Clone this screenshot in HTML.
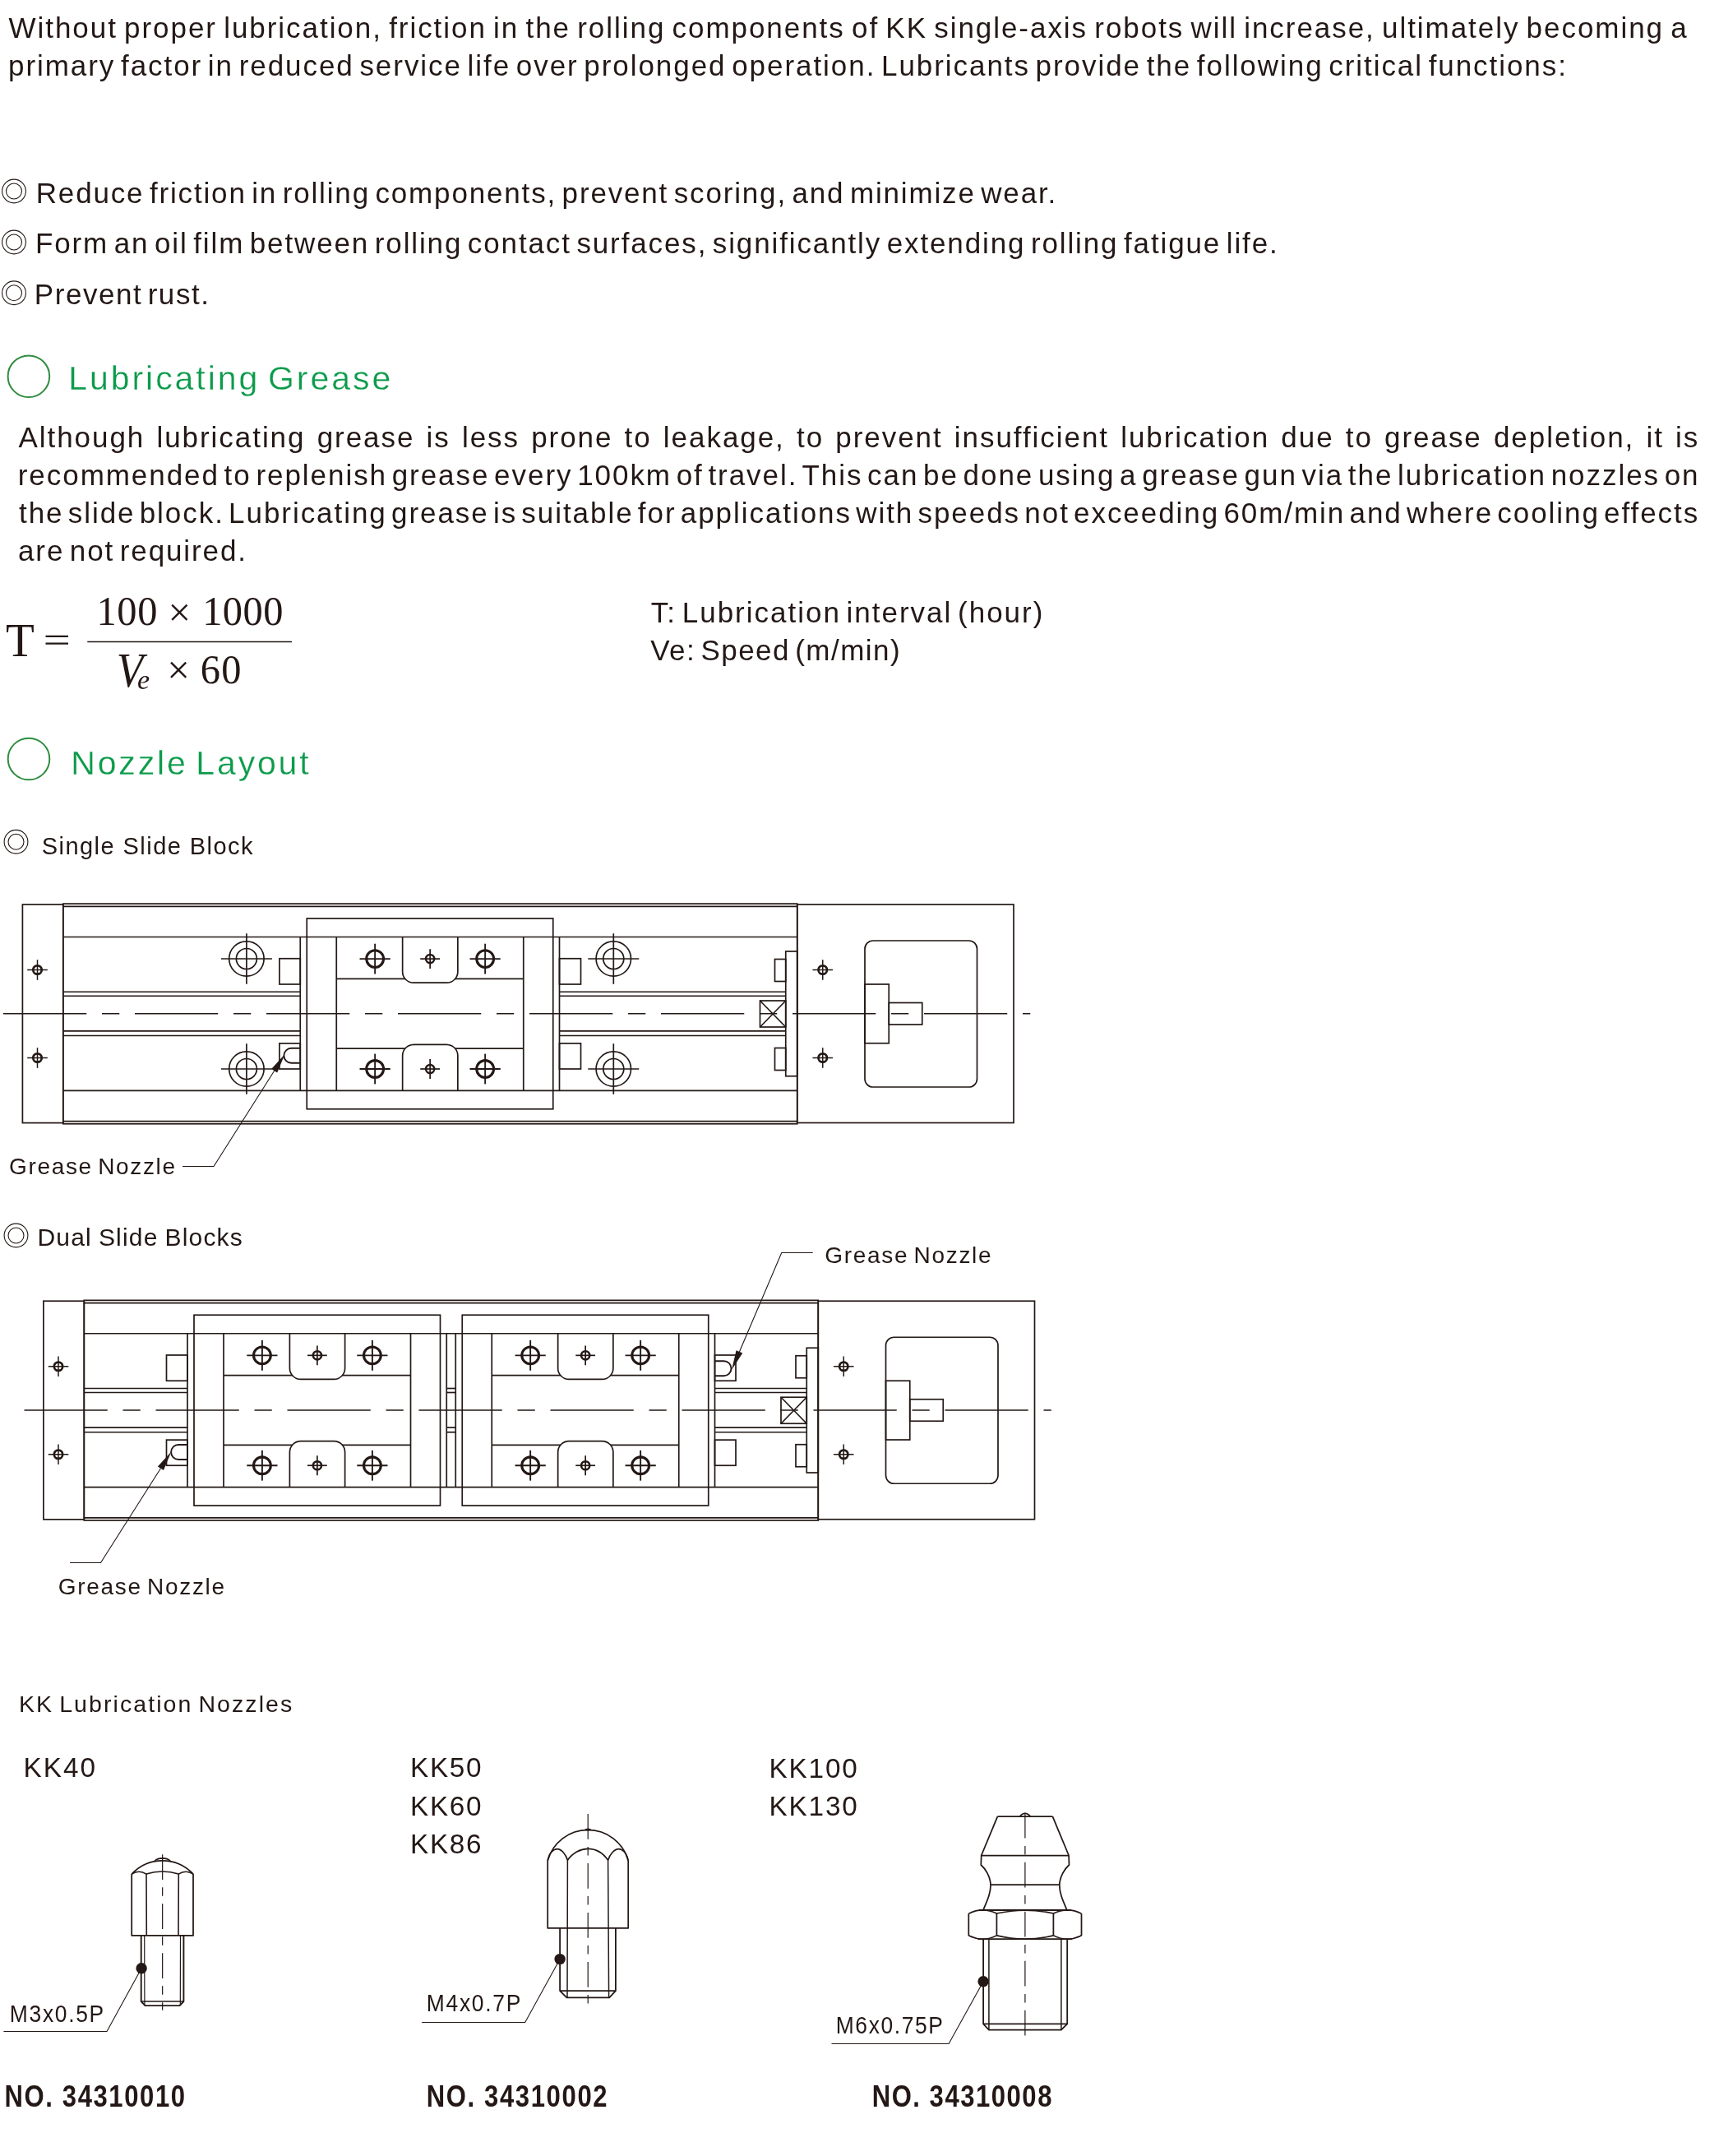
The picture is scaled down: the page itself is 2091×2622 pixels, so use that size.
<!DOCTYPE html>
<html><head><meta charset="utf-8"><title>Lubrication</title>
<style>
html,body{margin:0;padding:0;background:#fff;}
body{width:2091px;height:2622px;overflow:hidden;font-family:"Liberation Sans",sans-serif;}
svg{display:block;position:absolute;left:0;top:0;will-change:transform;}
.l{fill:none;stroke:#231815;stroke-width:1.7;}
.t{fill:none;stroke:#231815;stroke-width:1.1;}
.c{fill:none;stroke:#231815;stroke-width:1.3;}
text{white-space:pre;}
</style></head><body>
<svg width="2091" height="2622" viewBox="0 0 2091 2622">
<circle cx="34.9" cy="457.7" r="25.3" fill="none" stroke="#2f8c3e" stroke-width="2"/>
<circle cx="35" cy="923" r="25.3" fill="none" stroke="#2f8c3e" stroke-width="2"/>
<circle cx="17" cy="232.5" r="14.4" fill="none" stroke="#231815" stroke-width="1.1"/>
<circle cx="17" cy="232.5" r="9.5" fill="none" stroke="#231815" stroke-width="1.1"/>
<circle cx="17" cy="294.5" r="14.4" fill="none" stroke="#231815" stroke-width="1.1"/>
<circle cx="17" cy="294.5" r="9.5" fill="none" stroke="#231815" stroke-width="1.1"/>
<circle cx="17" cy="356.25" r="14.4" fill="none" stroke="#231815" stroke-width="1.1"/>
<circle cx="17" cy="356.25" r="9.5" fill="none" stroke="#231815" stroke-width="1.1"/>
<circle cx="19.5" cy="1023.75" r="14.4" fill="none" stroke="#231815" stroke-width="1.1"/>
<circle cx="19.5" cy="1023.75" r="9.5" fill="none" stroke="#231815" stroke-width="1.1"/>
<circle cx="19.5" cy="1502.5" r="14.4" fill="none" stroke="#231815" stroke-width="1.1"/>
<circle cx="19.5" cy="1502.5" r="9.5" fill="none" stroke="#231815" stroke-width="1.1"/>
<path d="M55.5 773.9 H83 M55.5 782.6 H83" stroke="#231815" stroke-width="2.2" fill="none"/>
<line x1="106.25" y1="780.5" x2="355" y2="780.5" stroke="#231815" stroke-width="1.4"/>
<rect class="l" x="27.4" y="1100" width="49.4" height="265.6"/><rect class="l" x="969.75" y="1100" width="263.25" height="265.5"/><rect class="l" x="76.8" y="1099.1" width="892.95" height="267.65"/><line class="l" x1="76.8" y1="1102.3" x2="969.75" y2="1102.3"/><line class="l" x1="76.8" y1="1363.6" x2="969.75" y2="1363.6"/><circle class="l" cx="45.5" cy="1179.5" r="5.2" style="stroke-width:2.7"/><line class="l" x1="33.2" y1="1179.5" x2="57.8" y2="1179.5" style="stroke-width:1.5"/><line class="l" x1="45.5" y1="1167.2" x2="45.5" y2="1191.8" style="stroke-width:1.5"/><circle class="l" cx="45.5" cy="1286.5" r="5.2" style="stroke-width:2.7"/><line class="l" x1="33.2" y1="1286.5" x2="57.8" y2="1286.5" style="stroke-width:1.5"/><line class="l" x1="45.5" y1="1274.2" x2="45.5" y2="1298.8" style="stroke-width:1.5"/><circle class="l" cx="1000.75" cy="1179.5" r="5.2" style="stroke-width:2.7"/><line class="l" x1="988.45" y1="1179.5" x2="1013.05" y2="1179.5" style="stroke-width:1.5"/><line class="l" x1="1000.75" y1="1167.2" x2="1000.75" y2="1191.8" style="stroke-width:1.5"/><circle class="l" cx="1000.75" cy="1286.5" r="5.2" style="stroke-width:2.7"/><line class="l" x1="988.45" y1="1286.5" x2="1013.05" y2="1286.5" style="stroke-width:1.5"/><line class="l" x1="1000.75" y1="1274.2" x2="1000.75" y2="1298.8" style="stroke-width:1.5"/><line class="l" x1="76.8" y1="1206.25" x2="365.25" y2="1206.25"/><line class="l" x1="76.8" y1="1211.25" x2="365.25" y2="1211.25"/><line class="l" x1="76.8" y1="1253.9" x2="365.25" y2="1253.9"/><line class="l" x1="76.8" y1="1259.5" x2="365.25" y2="1259.5"/><line class="l" x1="680.5" y1="1206.25" x2="955.75" y2="1206.25"/><line class="l" x1="680.5" y1="1211.25" x2="955.75" y2="1211.25"/><line class="l" x1="680.5" y1="1253.9" x2="955.75" y2="1253.9"/><line class="l" x1="680.5" y1="1259.5" x2="955.75" y2="1259.5"/><rect class="l" x="373.25" y="1117" width="299.5" height="231.75"/><line class="l" x1="365.25" y1="1139.5" x2="365.25" y2="1326.3"/><line class="l" x1="409.25" y1="1139.5" x2="409.25" y2="1326.3"/><line class="l" x1="636.75" y1="1139.5" x2="636.75" y2="1326.3"/><line class="l" x1="680.5" y1="1139.5" x2="680.5" y2="1326.3"/><line class="l" x1="409.25" y1="1190.3" x2="636.75" y2="1190.3"/><path class="l" d="M489.65 1139.5 L489.65 1181.7 C489.65 1189.12 495.72 1195.2 503.15 1195.2 L543.35 1195.2 C550.77 1195.2 556.85 1189.12 556.85 1181.7 L556.85 1139.5" style="fill:#fff"/><line class="l" x1="409.25" y1="1275.2" x2="636.75" y2="1275.2"/><path class="l" d="M489.65 1326.3 L489.65 1283.8 C489.65 1276.38 495.72 1270.3 503.15 1270.3 L543.35 1270.3 C550.77 1270.3 556.85 1276.38 556.85 1283.8 L556.85 1326.3" style="fill:#fff"/><circle class="l" cx="456.15" cy="1166.1" r="10.4" style="stroke-width:3.1"/><line class="l" x1="437.55" y1="1166.1" x2="474.75" y2="1166.1" style="stroke-width:1.9"/><line class="l" x1="456.15" y1="1147.7" x2="456.15" y2="1184.5" style="stroke-width:1.9"/><circle class="l" cx="590.15" cy="1166.1" r="10.4" style="stroke-width:3.1"/><line class="l" x1="571.55" y1="1166.1" x2="608.75" y2="1166.1" style="stroke-width:1.9"/><line class="l" x1="590.15" y1="1147.7" x2="590.15" y2="1184.5" style="stroke-width:1.9"/><circle class="l" cx="523.15" cy="1166.1" r="5.1" style="stroke-width:2.5"/><line class="l" x1="511.25" y1="1166.1" x2="535.05" y2="1166.1" style="stroke-width:1.7"/><line class="l" x1="523.15" y1="1154.2" x2="523.15" y2="1178" style="stroke-width:1.7"/><circle class="l" cx="456.15" cy="1300" r="10.4" style="stroke-width:3.1"/><line class="l" x1="437.55" y1="1300" x2="474.75" y2="1300" style="stroke-width:1.9"/><line class="l" x1="456.15" y1="1281.6" x2="456.15" y2="1318.4" style="stroke-width:1.9"/><circle class="l" cx="590.15" cy="1300" r="10.4" style="stroke-width:3.1"/><line class="l" x1="571.55" y1="1300" x2="608.75" y2="1300" style="stroke-width:1.9"/><line class="l" x1="590.15" y1="1281.6" x2="590.15" y2="1318.4" style="stroke-width:1.9"/><circle class="l" cx="523.15" cy="1300" r="5.1" style="stroke-width:2.5"/><line class="l" x1="511.25" y1="1300" x2="535.05" y2="1300" style="stroke-width:1.7"/><line class="l" x1="523.15" y1="1288.1" x2="523.15" y2="1311.9" style="stroke-width:1.7"/><line class="l" x1="76.8" y1="1139.5" x2="969.75" y2="1139.5"/><line class="l" x1="76.8" y1="1326.3" x2="969.75" y2="1326.3"/><rect class="l" x="339.9" y="1165.75" width="25.35" height="31.25"/><rect class="l" x="339.9" y="1268.9" width="25.35" height="31.1"/><rect class="l" x="680.5" y="1165.75" width="26" height="31.25"/><rect class="l" x="680.5" y="1268.9" width="26" height="31.1"/><circle class="l" cx="299.9" cy="1166" r="21.2" style="stroke-width:1.7"/><circle class="l" cx="299.9" cy="1166" r="12.5" style="stroke-width:1.7"/><line class="l" x1="268.9" y1="1166" x2="330.9" y2="1166"/><line class="l" x1="299.9" y1="1135.2" x2="299.9" y2="1196.8"/><circle class="l" cx="299.9" cy="1300" r="21.2" style="stroke-width:1.7"/><circle class="l" cx="299.9" cy="1300" r="12.5" style="stroke-width:1.7"/><line class="l" x1="268.9" y1="1300" x2="330.9" y2="1300"/><line class="l" x1="299.9" y1="1269.2" x2="299.9" y2="1330.8"/><circle class="l" cx="746.3" cy="1166" r="21.2" style="stroke-width:1.7"/><circle class="l" cx="746.3" cy="1166" r="12.5" style="stroke-width:1.7"/><line class="l" x1="715.3" y1="1166" x2="777.3" y2="1166"/><line class="l" x1="746.3" y1="1135.2" x2="746.3" y2="1196.8"/><circle class="l" cx="746.3" cy="1300" r="21.2" style="stroke-width:1.7"/><circle class="l" cx="746.3" cy="1300" r="12.5" style="stroke-width:1.7"/><line class="l" x1="715.3" y1="1300" x2="777.3" y2="1300"/><line class="l" x1="746.3" y1="1269.2" x2="746.3" y2="1330.8"/><rect class="l" x="955.75" y="1157" width="14" height="151.75"/><rect class="l" x="942.5" y="1166.5" width="13.25" height="27"/><rect class="l" x="942.5" y="1274.5" width="13.25" height="27"/><rect class="l" x="924.5" y="1217" width="31.25" height="32"/><line class="l" x1="924.5" y1="1217" x2="955.75" y2="1249"/><line class="l" x1="924.5" y1="1249" x2="955.75" y2="1217"/><rect class="l" x="1052" y="1144" width="136.5" height="178" rx="10"/><rect class="l" x="1052" y="1197" width="29.25" height="71.75"/><rect class="l" x="1081.25" y="1219.5" width="40.5" height="26.5"/><line class="c" x1="4" y1="1232.75" x2="1253.25" y2="1232.75" stroke-dasharray="101.25 18.75 21.25 18.75"/>
<path class="l" d="M365.25 1274.8 L354.4 1274.8 A9 9 0 0 0 354.4 1292.8 L365.25 1292.8" style="stroke-width:1.9"/>
<path d="M346.5 1282 L330.11 1300.02 L337.2 1304.52 Z" fill="#231815"/><polyline class="t" points="333.65,1302.27 260,1418.5 222,1418.5"/>
<rect class="l" x="52.9" y="1582.25" width="49.4" height="265.6"/><rect class="l" x="995.25" y="1582.25" width="263.25" height="265.5"/><rect class="l" x="102.3" y="1581.35" width="892.95" height="267.65"/><line class="l" x1="102.3" y1="1584.55" x2="995.25" y2="1584.55"/><line class="l" x1="102.3" y1="1845.85" x2="995.25" y2="1845.85"/><circle class="l" cx="71" cy="1661.75" r="5.2" style="stroke-width:2.7"/><line class="l" x1="58.7" y1="1661.75" x2="83.3" y2="1661.75" style="stroke-width:1.5"/><line class="l" x1="71" y1="1649.45" x2="71" y2="1674.05" style="stroke-width:1.5"/><circle class="l" cx="71" cy="1768.75" r="5.2" style="stroke-width:2.7"/><line class="l" x1="58.7" y1="1768.75" x2="83.3" y2="1768.75" style="stroke-width:1.5"/><line class="l" x1="71" y1="1756.45" x2="71" y2="1781.05" style="stroke-width:1.5"/><circle class="l" cx="1026.25" cy="1661.75" r="5.2" style="stroke-width:2.7"/><line class="l" x1="1013.95" y1="1661.75" x2="1038.55" y2="1661.75" style="stroke-width:1.5"/><line class="l" x1="1026.25" y1="1649.45" x2="1026.25" y2="1674.05" style="stroke-width:1.5"/><circle class="l" cx="1026.25" cy="1768.75" r="5.2" style="stroke-width:2.7"/><line class="l" x1="1013.95" y1="1768.75" x2="1038.55" y2="1768.75" style="stroke-width:1.5"/><line class="l" x1="1026.25" y1="1756.45" x2="1026.25" y2="1781.05" style="stroke-width:1.5"/><line class="l" x1="102.3" y1="1688.5" x2="228" y2="1688.5"/><line class="l" x1="102.3" y1="1693.5" x2="228" y2="1693.5"/><line class="l" x1="102.3" y1="1736.15" x2="228" y2="1736.15"/><line class="l" x1="102.3" y1="1741.75" x2="228" y2="1741.75"/><line class="l" x1="543.25" y1="1688.5" x2="554.25" y2="1688.5"/><line class="l" x1="543.25" y1="1693.5" x2="554.25" y2="1693.5"/><line class="l" x1="543.25" y1="1736.15" x2="554.25" y2="1736.15"/><line class="l" x1="543.25" y1="1741.75" x2="554.25" y2="1741.75"/><line class="l" x1="869.5" y1="1688.5" x2="981.25" y2="1688.5"/><line class="l" x1="869.5" y1="1693.5" x2="981.25" y2="1693.5"/><line class="l" x1="869.5" y1="1736.15" x2="981.25" y2="1736.15"/><line class="l" x1="869.5" y1="1741.75" x2="981.25" y2="1741.75"/><rect class="l" x="236" y="1599.25" width="299.5" height="231.75"/><line class="l" x1="228" y1="1621.75" x2="228" y2="1808.55"/><line class="l" x1="272" y1="1621.75" x2="272" y2="1808.55"/><line class="l" x1="499.5" y1="1621.75" x2="499.5" y2="1808.55"/><line class="l" x1="543.25" y1="1621.75" x2="543.25" y2="1808.55"/><line class="l" x1="272" y1="1672.55" x2="499.5" y2="1672.55"/><path class="l" d="M352.4 1621.75 L352.4 1663.95 C352.4 1671.38 358.47 1677.45 365.9 1677.45 L406.1 1677.45 C413.53 1677.45 419.6 1671.38 419.6 1663.95 L419.6 1621.75" style="fill:#fff"/><line class="l" x1="272" y1="1757.45" x2="499.5" y2="1757.45"/><path class="l" d="M352.4 1808.55 L352.4 1766.05 C352.4 1758.62 358.47 1752.55 365.9 1752.55 L406.1 1752.55 C413.53 1752.55 419.6 1758.62 419.6 1766.05 L419.6 1808.55" style="fill:#fff"/><circle class="l" cx="318.9" cy="1648.35" r="10.4" style="stroke-width:3.1"/><line class="l" x1="300.3" y1="1648.35" x2="337.5" y2="1648.35" style="stroke-width:1.9"/><line class="l" x1="318.9" y1="1629.95" x2="318.9" y2="1666.75" style="stroke-width:1.9"/><circle class="l" cx="452.9" cy="1648.35" r="10.4" style="stroke-width:3.1"/><line class="l" x1="434.3" y1="1648.35" x2="471.5" y2="1648.35" style="stroke-width:1.9"/><line class="l" x1="452.9" y1="1629.95" x2="452.9" y2="1666.75" style="stroke-width:1.9"/><circle class="l" cx="385.9" cy="1648.35" r="5.1" style="stroke-width:2.5"/><line class="l" x1="374" y1="1648.35" x2="397.8" y2="1648.35" style="stroke-width:1.7"/><line class="l" x1="385.9" y1="1636.45" x2="385.9" y2="1660.25" style="stroke-width:1.7"/><circle class="l" cx="318.9" cy="1782.25" r="10.4" style="stroke-width:3.1"/><line class="l" x1="300.3" y1="1782.25" x2="337.5" y2="1782.25" style="stroke-width:1.9"/><line class="l" x1="318.9" y1="1763.85" x2="318.9" y2="1800.65" style="stroke-width:1.9"/><circle class="l" cx="452.9" cy="1782.25" r="10.4" style="stroke-width:3.1"/><line class="l" x1="434.3" y1="1782.25" x2="471.5" y2="1782.25" style="stroke-width:1.9"/><line class="l" x1="452.9" y1="1763.85" x2="452.9" y2="1800.65" style="stroke-width:1.9"/><circle class="l" cx="385.9" cy="1782.25" r="5.1" style="stroke-width:2.5"/><line class="l" x1="374" y1="1782.25" x2="397.8" y2="1782.25" style="stroke-width:1.7"/><line class="l" x1="385.9" y1="1770.35" x2="385.9" y2="1794.15" style="stroke-width:1.7"/><rect class="l" x="562.25" y="1599.25" width="299.5" height="231.75"/><line class="l" x1="554.25" y1="1621.75" x2="554.25" y2="1808.55"/><line class="l" x1="598.25" y1="1621.75" x2="598.25" y2="1808.55"/><line class="l" x1="825.75" y1="1621.75" x2="825.75" y2="1808.55"/><line class="l" x1="869.5" y1="1621.75" x2="869.5" y2="1808.55"/><line class="l" x1="598.25" y1="1672.55" x2="825.75" y2="1672.55"/><path class="l" d="M678.65 1621.75 L678.65 1663.95 C678.65 1671.38 684.73 1677.45 692.15 1677.45 L732.35 1677.45 C739.77 1677.45 745.85 1671.38 745.85 1663.95 L745.85 1621.75" style="fill:#fff"/><line class="l" x1="598.25" y1="1757.45" x2="825.75" y2="1757.45"/><path class="l" d="M678.65 1808.55 L678.65 1766.05 C678.65 1758.62 684.73 1752.55 692.15 1752.55 L732.35 1752.55 C739.77 1752.55 745.85 1758.62 745.85 1766.05 L745.85 1808.55" style="fill:#fff"/><circle class="l" cx="645.15" cy="1648.35" r="10.4" style="stroke-width:3.1"/><line class="l" x1="626.55" y1="1648.35" x2="663.75" y2="1648.35" style="stroke-width:1.9"/><line class="l" x1="645.15" y1="1629.95" x2="645.15" y2="1666.75" style="stroke-width:1.9"/><circle class="l" cx="779.15" cy="1648.35" r="10.4" style="stroke-width:3.1"/><line class="l" x1="760.55" y1="1648.35" x2="797.75" y2="1648.35" style="stroke-width:1.9"/><line class="l" x1="779.15" y1="1629.95" x2="779.15" y2="1666.75" style="stroke-width:1.9"/><circle class="l" cx="712.15" cy="1648.35" r="5.1" style="stroke-width:2.5"/><line class="l" x1="700.25" y1="1648.35" x2="724.05" y2="1648.35" style="stroke-width:1.7"/><line class="l" x1="712.15" y1="1636.45" x2="712.15" y2="1660.25" style="stroke-width:1.7"/><circle class="l" cx="645.15" cy="1782.25" r="10.4" style="stroke-width:3.1"/><line class="l" x1="626.55" y1="1782.25" x2="663.75" y2="1782.25" style="stroke-width:1.9"/><line class="l" x1="645.15" y1="1763.85" x2="645.15" y2="1800.65" style="stroke-width:1.9"/><circle class="l" cx="779.15" cy="1782.25" r="10.4" style="stroke-width:3.1"/><line class="l" x1="760.55" y1="1782.25" x2="797.75" y2="1782.25" style="stroke-width:1.9"/><line class="l" x1="779.15" y1="1763.85" x2="779.15" y2="1800.65" style="stroke-width:1.9"/><circle class="l" cx="712.15" cy="1782.25" r="5.1" style="stroke-width:2.5"/><line class="l" x1="700.25" y1="1782.25" x2="724.05" y2="1782.25" style="stroke-width:1.7"/><line class="l" x1="712.15" y1="1770.35" x2="712.15" y2="1794.15" style="stroke-width:1.7"/><line class="l" x1="102.3" y1="1621.75" x2="995.25" y2="1621.75"/><line class="l" x1="102.3" y1="1808.55" x2="995.25" y2="1808.55"/><rect class="l" x="202.5" y="1648" width="25.5" height="31.25"/><rect class="l" x="202.5" y="1751.15" width="25.5" height="31.1"/><rect class="l" x="869.5" y="1648" width="25.5" height="31.25"/><rect class="l" x="869.5" y="1751.15" width="25.5" height="31.1"/><rect class="l" x="981.25" y="1639.25" width="14" height="151.75"/><rect class="l" x="968" y="1648.75" width="13.25" height="27"/><rect class="l" x="968" y="1756.75" width="13.25" height="27"/><rect class="l" x="950" y="1699.25" width="31.25" height="32"/><line class="l" x1="950" y1="1699.25" x2="981.25" y2="1731.25"/><line class="l" x1="950" y1="1731.25" x2="981.25" y2="1699.25"/><rect class="l" x="1077.5" y="1626.25" width="136.5" height="178" rx="10"/><rect class="l" x="1077.5" y="1679.25" width="29.25" height="71.75"/><rect class="l" x="1106.75" y="1701.75" width="40.5" height="26.5"/><line class="c" x1="29.5" y1="1715" x2="1278.75" y2="1715" stroke-dasharray="101.25 18.75 21.25 18.75"/>
<path class="l" d="M228 1757.05 L217.1 1757.05 A9 9 0 0 0 217.1 1775.05 L228 1775.05" style="stroke-width:1.9"/>
<path d="M208.3 1765.5 L191.88 1783.5 L198.97 1788.01 Z" fill="#231815"/><polyline class="t" points="195.43,1785.76 122.5,1900.5 85,1900.5"/>
<path class="l" d="M869.5 1655.25 L880.5 1655.25 A9 9 0 0 1 880.5 1673.25 L869.5 1673.25" style="stroke-width:1.9"/>
<path d="M890 1666 L903.28 1645.57 L895.55 1642.28 Z" fill="#231815"/><polyline class="t" points="899.41,1643.92 950.75,1523.5 988.75,1523.5"/>
<path d="M160.2 2279.1 L160.2 2353.9 L235 2353.9 L235 2279.1" fill="none" stroke="#231815" stroke-width="1.75" stroke-linejoin="round"/>
<path d="M160.2 2279.1 A51 51 0 0 1 235 2279.1" fill="none" stroke="#231815" stroke-width="1.75" stroke-linejoin="round"/>
<path d="M160.2 2279.1 Q169 2273.3 178 2279.1 Q197.65 2272.9 217.2 2279.1 Q226 2273.3 235 2279.1" fill="none" stroke="#231815" stroke-width="1.6" stroke-linejoin="round"/>
<path d="M178 2279.1 L178.3 2353.9 M217.3 2279.1 L217 2353.9" fill="none" stroke="#231815" stroke-width="1.6" stroke-linejoin="round"/>
<path d="M187.5 2263.9 Q190.8 2260 197.65 2259.9 Q204.5 2260 207.8 2263.9" fill="none" stroke="#231815" stroke-width="1.6" stroke-linejoin="round"/>
<path d="M171.7 2353.9 L171.7 2434 L176.5 2439.1 L218.6 2439.1 L223.4 2434 L223.4 2353.9" fill="none" stroke="#231815" stroke-width="1.9" stroke-linejoin="round"/>
<path d="M175.7 2353.9 L175.9 2439 M219.5 2353.9 L219.3 2439" fill="none" stroke="#231815" stroke-width="1.2" stroke-linejoin="round"/>
<path d="M171.7 2434 L223.4 2434" fill="none" stroke="#231815" stroke-width="1.6" stroke-linejoin="round"/>
<line x1="197.65" y1="2255.2" x2="197.65" y2="2444.7" stroke="#231815" stroke-width="1.2" stroke-dasharray="30.7 9.4 10.5 9.4"/>
<circle cx="172.1" cy="2393.7" r="6.7" fill="#231815"/>
<polyline points="172.1,2393.7 130,2470.5 4.4,2470.5" fill="none" stroke="#231815" stroke-width="1.1"/>
<path d="M666.2 2262.8 L666.2 2344.8 L764.2 2344.8 L764.2 2262.8" fill="none" stroke="#231815" stroke-width="1.75" stroke-linejoin="round"/>
<path d="M666.2 2262.8 A50.8 50.8 0 0 1 764.2 2262.8" fill="none" stroke="#231815" stroke-width="1.75" stroke-linejoin="round"/>
<path d="M666.2 2262.8 C668 2253 673.5 2248.6 677.8 2248.6 C682.5 2248.6 688 2254.5 690.4 2262.3 C696.5 2253.5 706 2248.4 715.2 2248.4 C724.4 2248.4 733.5 2253.5 739.6 2262.3 C742 2254.5 747.8 2248.6 752.5 2248.6 C757 2248.6 762.4 2253 764.2 2262.8" fill="none" stroke="#231815" stroke-width="1.7" stroke-linejoin="round"/>
<path d="M690.4 2262.3 L690 2429.3 M739.6 2262.3 L740.6 2429.3" fill="none" stroke="#231815" stroke-width="1.5" stroke-linejoin="round"/>
<ellipse cx="715.2" cy="2224.9" rx="3.6" ry="1.5" fill="#231815"/>
<path d="M681.1 2344.8 L681.1 2421.1 L689.4 2429.3 L741.2 2429.3 L748.9 2421.1 L748.9 2344.8" fill="none" stroke="#231815" stroke-width="1.8" stroke-linejoin="round"/>
<path d="M681.1 2421.1 L748.9 2421.1" fill="none" stroke="#231815" stroke-width="1.6" stroke-linejoin="round"/>
<line x1="715.2" y1="2206" x2="715.2" y2="2436.8" stroke="#231815" stroke-width="1.2" stroke-dasharray="30.7 9.4 10.5 9.4"/>
<circle cx="681.1" cy="2382.6" r="6.7" fill="#231815"/>
<polyline points="681.1,2382.6 638.7,2459.5 513.2,2459.5" fill="none" stroke="#231815" stroke-width="1.1"/>
<path d="M1213.4 2209.2 L1280.4 2209.2" fill="none" stroke="#231815" stroke-width="1.75" stroke-linejoin="round"/>
<path d="M1240.3 2209 Q1246.9 2201.4 1253.5 2209" fill="none" stroke="#231815" stroke-width="1.4" stroke-linejoin="round"/>
<path d="M1213.4 2209.2 L1193.7 2256.5 L1193.3 2268 C1198.5 2272.5 1204.6 2282 1205 2292.1 C1205.2 2302 1201 2311 1196.1 2322.5" fill="none" stroke="#231815" stroke-width="1.75" stroke-linejoin="round"/>
<path d="M1280.4 2209.2 L1300.1 2256.5 L1300.5 2268 C1295.3 2272.5 1289.2 2282 1288.8 2292.1 C1288.6 2302 1292.8 2311 1297.7 2322.5" fill="none" stroke="#231815" stroke-width="1.75" stroke-linejoin="round"/>
<path d="M1193.7 2256.5 L1300.1 2256.5" fill="none" stroke="#231815" stroke-width="1.75" stroke-linejoin="round"/>
<path d="M1205 2292.1 L1288.8 2292.1" fill="none" stroke="#231815" stroke-width="1.75" stroke-linejoin="round"/>
<path d="M1191 2323 L1302.8 2323" fill="none" stroke="#231815" stroke-width="1.9" stroke-linejoin="round"/>
<path d="M1190 2358.1 L1303.8 2358.1" fill="none" stroke="#231815" stroke-width="1.9" stroke-linejoin="round"/>
<path d="M1178.3 2327.2 L1178.3 2353.9 M1315.5 2327.2 L1315.5 2353.9" fill="none" stroke="#231815" stroke-width="1.75" stroke-linejoin="round"/>
<path d="M1212.4 2327 L1212.4 2353.9 M1281.4 2327 L1281.4 2353.9" fill="none" stroke="#231815" stroke-width="1.75" stroke-linejoin="round"/>
<path d="M1178.3 2327.2 Q1195 2318.6 1212.4 2327 Q1246.9 2319.4 1281.4 2327 Q1298.8 2318.6 1315.5 2327.2" fill="none" stroke="#231815" stroke-width="1.6" stroke-linejoin="round"/>
<path d="M1178.3 2353.9 Q1195 2362.6 1212.4 2353.9 Q1246.9 2362.3 1281.4 2353.9 Q1298.8 2362.6 1315.5 2353.9" fill="none" stroke="#231815" stroke-width="1.6" stroke-linejoin="round"/>
<path d="M1178.3 2353.9 L1192 2358.8 M1315.5 2353.9 L1301.8 2358.8" fill="none" stroke="#231815" stroke-width="1.2" stroke-linejoin="round"/>
<path d="M1196.1 2358.1 L1196.1 2461.4 L1202.9 2468.7 L1290.9 2468.7 L1298.2 2461.4 L1298.2 2358.1" fill="none" stroke="#231815" stroke-width="1.8" stroke-linejoin="round"/>
<path d="M1202.9 2358.1 L1202.9 2468.7 M1290.9 2358.1 L1290.9 2468.7" fill="none" stroke="#231815" stroke-width="1.5" stroke-linejoin="round"/>
<path d="M1196.1 2461.4 L1298.2 2461.4" fill="none" stroke="#231815" stroke-width="1.6" stroke-linejoin="round"/>
<line x1="1246.9" y1="2204.8" x2="1246.9" y2="2475.6" stroke="#231815" stroke-width="1.2" stroke-dasharray="30.7 9.4 10.5 9.4"/>
<circle cx="1196.1" cy="2409.8" r="6.7" fill="#231815"/>
<polyline points="1196.1,2409.8 1154.1,2485.5 1011.5,2485.5" fill="none" stroke="#231815" stroke-width="1.1"/>
<text x="10.50" y="46.25" style='font-family:"Liberation Sans", sans-serif;font-size:35px;fill:#231815;letter-spacing:1.950px;word-spacing:-3.407px' xml:space="preserve">Without proper lubrication, friction in the rolling components of KK single-axis robots will increase, ultimately becoming a</text>
<text x="10.00" y="92.00" style='font-family:"Liberation Sans", sans-serif;font-size:35px;fill:#231815;letter-spacing:1.946px;word-spacing:-5.000px' xml:space="preserve">primary factor in reduced service life over prolonged operation. Lubricants provide the following critical functions:</text>
<text x="43.75" y="247.00" style='font-family:"Liberation Sans", sans-serif;font-size:35px;fill:#231815;letter-spacing:1.833px;word-spacing:-5.000px' xml:space="preserve">Reduce friction in rolling components, prevent scoring, and minimize wear.</text>
<text x="43.00" y="308.00" style='font-family:"Liberation Sans", sans-serif;font-size:35px;fill:#231815;letter-spacing:1.872px;word-spacing:-5.000px' xml:space="preserve">Form an oil film between rolling contact surfaces, significantly extending rolling fatigue life.</text>
<text x="41.75" y="369.50" style='font-family:"Liberation Sans", sans-serif;font-size:35px;fill:#231815;letter-spacing:1.568px;word-spacing:-5.000px' xml:space="preserve">Prevent rust.</text>
<text x="83.25" y="473.75" style='font-family:"Liberation Sans", sans-serif;font-size:41px;fill:#0c9b4b;letter-spacing:2.943px;word-spacing:-4.500px;stroke:#fff;stroke-width:0.3px' xml:space="preserve">Lubricating Grease</text>
<text x="22.50" y="543.75" style='font-family:"Liberation Sans", sans-serif;font-size:35px;fill:#231815;letter-spacing:1.950px;word-spacing:2.515px' xml:space="preserve">Although lubricating grease is less prone to leakage, to prevent insufficient lubrication due to grease depletion, it is</text>
<text x="21.75" y="590.00" style='font-family:"Liberation Sans", sans-serif;font-size:35px;fill:#231815;letter-spacing:1.950px;word-spacing:-5.977px' xml:space="preserve">recommended to replenish grease every 100km of travel. This can be done using a grease gun via the lubrication nozzles on</text>
<text x="23.00" y="635.75" style='font-family:"Liberation Sans", sans-serif;font-size:35px;fill:#231815;letter-spacing:1.950px;word-spacing:-6.439px' xml:space="preserve">the slide block. Lubricating grease is suitable for applications with speeds not exceeding 60m/min and where cooling effects</text>
<text x="22.00" y="682.00" style='font-family:"Liberation Sans", sans-serif;font-size:35px;fill:#231815;letter-spacing:1.884px;word-spacing:-5.000px' xml:space="preserve">are not required.</text>
<text x="791.80" y="756.90" style='font-family:"Liberation Sans", sans-serif;font-size:35px;fill:#231815;letter-spacing:1.991px;word-spacing:-5.000px' xml:space="preserve">T: Lubrication interval (hour)</text>
<text x="791.20" y="802.90" style='font-family:"Liberation Sans", sans-serif;font-size:35px;fill:#231815;letter-spacing:1.476px;word-spacing:-5.000px' xml:space="preserve">Ve: Speed (m/min)</text>
<text x="86.25" y="942.00" style='font-family:"Liberation Sans", sans-serif;font-size:41px;fill:#0c9b4b;letter-spacing:2.840px;word-spacing:-4.500px;stroke:#fff;stroke-width:0.3px' xml:space="preserve">Nozzle Layout</text>
<text x="50.75" y="1038.75" style='font-family:"Liberation Sans", sans-serif;font-size:29px;fill:#231815;letter-spacing:1.448px;word-spacing:0.000px' xml:space="preserve">Single Slide Block</text>
<text x="11.00" y="1428.00" style='font-family:"Liberation Sans", sans-serif;font-size:28px;fill:#231815;letter-spacing:1.657px;word-spacing:-3.000px' xml:space="preserve">Grease Nozzle</text>
<text x="45.50" y="1515.00" style='font-family:"Liberation Sans", sans-serif;font-size:30px;fill:#231815;letter-spacing:1.176px;word-spacing:-1.500px' xml:space="preserve">Dual Slide Blocks</text>
<text x="1003.25" y="1535.50" style='font-family:"Liberation Sans", sans-serif;font-size:28px;fill:#231815;letter-spacing:1.678px;word-spacing:-3.000px' xml:space="preserve">Grease Nozzle</text>
<text x="70.75" y="1939.25" style='font-family:"Liberation Sans", sans-serif;font-size:28px;fill:#231815;letter-spacing:1.678px;word-spacing:-3.000px' xml:space="preserve">Grease Nozzle</text>
<text x="23.00" y="2082.00" style='font-family:"Liberation Sans", sans-serif;font-size:28.5px;fill:#231815;letter-spacing:2.076px;word-spacing:-3.000px' xml:space="preserve">KK Lubrication Nozzles</text>
<text x="28.50" y="2160.50" style='font-family:"Liberation Sans", sans-serif;font-size:33.3px;fill:#231815;letter-spacing:2.021px;word-spacing:0.000px' xml:space="preserve">KK40</text>
<text x="499.00" y="2160.90" style='font-family:"Liberation Sans", sans-serif;font-size:33.3px;fill:#231815;letter-spacing:1.688px;word-spacing:0.000px' xml:space="preserve">KK50</text>
<text x="499.00" y="2207.80" style='font-family:"Liberation Sans", sans-serif;font-size:33.3px;fill:#231815;letter-spacing:1.688px;word-spacing:0.000px' xml:space="preserve">KK60</text>
<text x="499.00" y="2254.40" style='font-family:"Liberation Sans", sans-serif;font-size:33.3px;fill:#231815;letter-spacing:1.688px;word-spacing:0.000px' xml:space="preserve">KK86</text>
<text x="935.40" y="2161.50" style='font-family:"Liberation Sans", sans-serif;font-size:33.3px;fill:#231815;letter-spacing:1.862px;word-spacing:0.000px' xml:space="preserve">KK100</text>
<text x="935.40" y="2207.80" style='font-family:"Liberation Sans", sans-serif;font-size:33.3px;fill:#231815;letter-spacing:1.862px;word-spacing:0.000px' xml:space="preserve">KK130</text>
<text transform="translate(11.84 2458.50) scale(0.88 1)" style='font-family:"Liberation Sans", sans-serif;font-size:30px;fill:#231815;letter-spacing:1.925px;word-spacing:0.000px' xml:space="preserve">M3x0.5P</text>
<text transform="translate(518.74 2446.30) scale(0.88 1)" style='font-family:"Liberation Sans", sans-serif;font-size:30px;fill:#231815;letter-spacing:1.982px;word-spacing:0.000px' xml:space="preserve">M4x0.7P</text>
<text transform="translate(1016.74 2472.70) scale(0.88 1)" style='font-family:"Liberation Sans", sans-serif;font-size:30px;fill:#231815;letter-spacing:1.848px;word-spacing:0.000px' xml:space="preserve">M6x0.75P</text>
<text transform="translate(5.60 2562.00) scale(0.85 1)" style='font-family:"Liberation Sans", sans-serif;font-size:36.5px;fill:#231815;letter-spacing:1.892px;word-spacing:0.000px;font-weight:bold' xml:space="preserve">NO. 34310010</text>
<text transform="translate(518.80 2562.00) scale(0.85 1)" style='font-family:"Liberation Sans", sans-serif;font-size:36.5px;fill:#231815;letter-spacing:1.924px;word-spacing:0.000px;font-weight:bold' xml:space="preserve">NO. 34310002</text>
<text transform="translate(1060.70 2562.00) scale(0.85 1)" style='font-family:"Liberation Sans", sans-serif;font-size:36.5px;fill:#231815;letter-spacing:1.812px;word-spacing:0.000px;font-weight:bold' xml:space="preserve">NO. 34310008</text>
<text x="7.00" y="797.50" style='font-family:"Liberation Serif", serif;font-size:57px;fill:#231815;letter-spacing:-0.500px;word-spacing:0.000px' xml:space="preserve">T</text>
<text transform="translate(117.45 760.40) scale(0.95 1)" style='font-family:"Liberation Serif", serif;font-size:51px;fill:#231815;letter-spacing:0.684px;word-spacing:0.000px' xml:space="preserve">100</text>
<text x="204.50" y="760.50" style='font-family:"Liberation Serif", serif;font-size:49px;fill:#231815;letter-spacing:-0.250px;word-spacing:0.000px' xml:space="preserve">×</text>
<text transform="translate(246.20 760.40) scale(0.95 1)" style='font-family:"Liberation Serif", serif;font-size:51px;fill:#231815;letter-spacing:0.465px;word-spacing:0.000px' xml:space="preserve">1000</text>
<text transform="translate(141.84 834.70) scale(0.8875 1)" style='font-family:"Liberation Serif", serif;font-size:60px;fill:#231815;letter-spacing:0.000px;word-spacing:0.000px;font-style:italic' xml:space="preserve">V</text>
<text x="167.00" y="837.50" style='font-family:"Liberation Serif", serif;font-size:34px;fill:#231815;letter-spacing:-1.500px;word-spacing:0.000px;font-style:italic' xml:space="preserve">e</text>
<text x="203.25" y="831.25" style='font-family:"Liberation Serif", serif;font-size:49px;fill:#231815;letter-spacing:0.250px;word-spacing:0.000px' xml:space="preserve">×</text>
<text transform="translate(243.85 831.10) scale(0.95 1)" style='font-family:"Liberation Serif", serif;font-size:51px;fill:#231815;letter-spacing:1.184px;word-spacing:0.000px' xml:space="preserve">60</text>
</svg>
</body></html>
